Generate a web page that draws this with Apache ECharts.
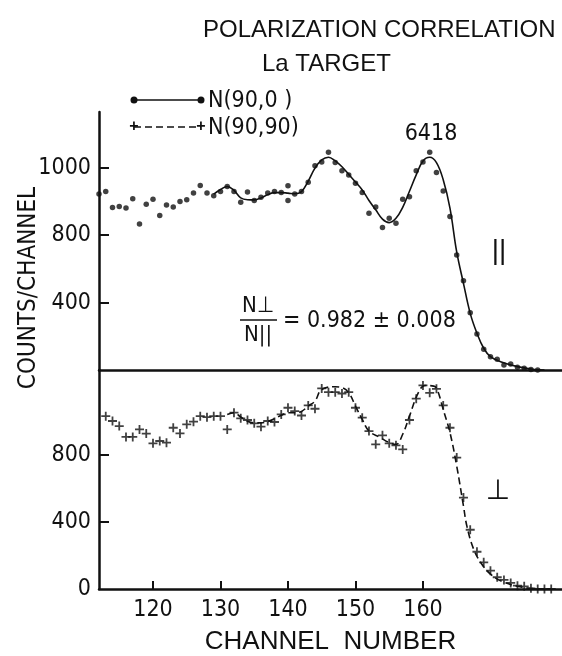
<!DOCTYPE html>
<html>
<head>
<meta charset="utf-8">
<script src="https://cdn.jsdelivr.net/npm/echarts@6/dist/echarts.min.js"></script>
<style>
  html, body { margin: 0; padding: 0; background: #fff; }
  #chart { width: 562px; height: 656px; }
</style>
</head>
<body>
<div id="chart"></div>
<script>
// N(90,0) - points (parallel)
var topChannels = [112,113,114,115,116,117,118,119,120,121,122,123,124,125,126,127,128,129,130,131,132,133,134,135,136,137,138,139,140,140,141,142,143,144,145,146,147,148,149,150,151,152,153,154,155,156,157,158,159,160,161,162,163,164,165,166,167,168,169,170,171,172,173,174,175,176,177];
var topCounts = [1044,1058,963,969,960,1015,866,983,1013,916,979,966,999,1009,1049,1094,1049,1033,1058,1088,1058,995,1055,1005,1025,1049,1058,1052,1092,1005,1043,1058,1113,1211,1233,1292,1230,1181,1157,1108,1052,930,966,845,900,871,1013,1028,1181,1233,1292,1171,1062,910,682,530,340,214,123,79,64,30,36,16,10,3,0];
// fitted curve (solid)
var topFitChannels = [129,130,131,132,133,134,135,136,137,138,139,140,141,142,143,144,145,146,147,148,149,150,151,152,153,154,155,156,157,158,159,160,161,162,163,164,165,166,167,168,169,170,171.5,174,176.5,178];
var topFitCounts = [1043,1070,1088,1065,1021,1010,1009,1020,1040,1052,1052,1049,1045,1058,1120,1197,1246,1262,1240,1205,1160,1115,1068,1005,950,895,874,900,965,1060,1157,1240,1262,1230,1128,960,700,514,336,218,129,79,49,20,3,0];

// N(90,90) - points (perpendicular)
var botChannels = [113,114,115,116,117,118,119,120,121,122,123,124,125,126,127,128,129,130,131,132,133,134,135,136,137,138,139,140,141,142,143,144,145,146,147,148,149,150,151,152,153,154,155,156,157,158,159,160,161,162,163,164,165,166,167,168,169,170,171,172,173,174,175,176,177,178,179];
var botCounts = [1030,1001,971,906,906,951,926,868,882,872,961,927,981,997,1030,1024,1030,1030,951,1051,1017,1007,987,967,1001,995,1040,1080,1060,1034,1094,1074,1195,1173,1173,1165,1173,1080,1021,941,862,916,868,856,832,1007,1134,1213,1169,1193,1094,961,783,545,353,222,159,109,70,54,36,20,16,4,0,0,0];
// fitted curve (dashed)
var botFitChannels = [131,132,133,134,135,136,137,138,139,140,141,142,143,144,145,147,148,149,150,151,152,153.7,155,156,157,158,159.3,160.3,161.6,162.1,163,164,165,166,166.5,167.5,168.7,170,171.5,174,176.5,179];
var botFitCounts = [1040,1050,1025,1000,990,990,998,1015,1035,1050,1050,1058,1090,1120,1189,1205,1200,1169,1090,1011,941,902,872,862,922,1030,1169,1213,1209,1189,1070,932,733,495,376,238,149,89,49,16,2,0];

// axis ticks
var xTickValues = [120, 130, 140, 150, 160];
var topTickValues = [400, 800, 1200];
var topTickLabels = ['400', '800', '1000'];
var botTickValues = [400, 800];
var botLabelValues = [0, 400, 800];

function pairs(xs, ys) {
  return xs.map(function (x, i) { return [x, ys[i]]; });
}

var NARROW = '"DejaVu Sans Condensed", "Liberation Sans Narrow", sans-serif';
var SANS = '"Liberation Sans", Arial, sans-serif';
var PLUS = 'path://M4,0H6V4H10V6H6V10H4V6H0V4H4Z';

var chart = echarts.init(document.getElementById('chart'));

var option = {
  animation: false,
  backgroundColor: '#fff',
  title: [
    { text: 'POLARIZATION CORRELATION', left: 198, top: 13,
      textStyle: { fontFamily: SANS, fontSize: 24, fontWeight: 'normal', color: '#111' } },
    { text: 'La TARGET', left: 257, top: 47,
      textStyle: { fontFamily: SANS, fontSize: 24, fontWeight: 'normal', color: '#111' } }
  ],
  grid: [
    { left: 99, right: 0, top: 112, height: 258 },
    { left: 99, right: 0, top: 370, height: 220 }
  ],
  xAxis: [
    {
      gridIndex: 0, type: 'value', min: 112, max: 180.6,
      axisLine: { lineStyle: { color: '#111', width: 2.5 } },
      axisTick: { show: false }, axisLabel: { show: false }, splitLine: { show: false }
    },
    {
      gridIndex: 1, type: 'value', min: 112, max: 180.6,
      name: 'CHANNEL  NUMBER', nameLocation: 'middle', nameGap: 40,
      nameTextStyle: { fontFamily: SANS, fontSize: 26, color: '#111' },
      axisLine: { lineStyle: { color: '#111', width: 2.5 } },
      axisTick: { inside: true, length: 8, customValues: xTickValues, lineStyle: { color: '#111', width: 2 } },
      axisLabel: { customValues: xTickValues, fontFamily: NARROW, fontSize: 23, color: '#111', margin: 10 },
      splitLine: { show: false }
    }
  ],
  yAxis: [
    {
      gridIndex: 0, type: 'value', min: 0, max: 1530,
      axisLine: { show: true, lineStyle: { color: '#111', width: 2.5 } },
      axisTick: { show: true, inside: true, length: 10, customValues: topTickValues, lineStyle: { color: '#111', width: 2 } },
      axisLabel: {
        customValues: topTickValues, fontFamily: NARROW, fontSize: 23, color: '#111', margin: 8,
        formatter: function (v) { return topTickLabels[topTickValues.indexOf(v)]; }
      },
      splitLine: { show: false }
    },
    {
      gridIndex: 1, type: 'value', min: 0, max: 1305,
      axisLine: { show: true, lineStyle: { color: '#111', width: 2.5 } },
      axisTick: { show: true, inside: true, length: 10, customValues: botTickValues, lineStyle: { color: '#111', width: 2 } },
      axisLabel: { customValues: botLabelValues, fontFamily: NARROW, fontSize: 23, color: '#111', margin: 8 },
      splitLine: { show: false }
    }
  ],
  series: [
    {
      name: 'N(90,0 )', type: 'scatter', xAxisIndex: 0, yAxisIndex: 0,
      symbol: 'circle', symbolSize: 5.5, itemStyle: { color: '#111' },
      data: pairs(topChannels, topCounts)
    },
    {
      name: 'fit ||', type: 'line', xAxisIndex: 0, yAxisIndex: 0, smooth: 0.4,
      showSymbol: false, lineStyle: { color: '#111', width: 1.6 },
      data: pairs(topFitChannels, topFitCounts)
    },
    {
      name: 'N(90,90)', type: 'scatter', xAxisIndex: 1, yAxisIndex: 1,
      symbol: PLUS, symbolSize: 9, itemStyle: { color: '#111' },
      data: pairs(botChannels, botCounts)
    },
    {
      name: 'fit ⊥', type: 'line', xAxisIndex: 1, yAxisIndex: 1, smooth: 0.4,
      showSymbol: false, lineStyle: { color: '#111', width: 1.6, type: [7, 4] },
      data: pairs(botFitChannels, botFitCounts)
    }
  ],
  graphic: [
    // y axis name
    { type: 'text', x: 29, y: 288, rotation: Math.PI / 2,
      style: { text: 'COUNTS/CHANNEL', font: '24px ' + NARROW, fill: '#111', align: 'center', verticalAlign: 'middle' } },
    // legend
    { type: 'line', shape: { x1: 134, y1: 100, x2: 201, y2: 100 }, style: { stroke: '#111', lineWidth: 1.6 } },
    { type: 'circle', shape: { cx: 134, cy: 100, r: 3.5 }, style: { fill: '#111' } },
    { type: 'circle', shape: { cx: 201, cy: 100, r: 3.5 }, style: { fill: '#111' } },
    { type: 'text', x: 208, y: 101, style: { text: 'N(90,0 )', font: '23px ' + NARROW, fill: '#111', verticalAlign: 'middle' } },
    { type: 'line', shape: { x1: 134, y1: 127, x2: 201, y2: 127 }, style: { stroke: '#111', lineWidth: 1.6, lineDash: [7, 4] } },
    { type: 'text', x: 134, y: 127, style: { text: '+', font: 'bold 16px ' + SANS, fill: '#111', align: 'center', verticalAlign: 'middle' } },
    { type: 'text', x: 201, y: 127, style: { text: '+', font: 'bold 16px ' + SANS, fill: '#111', align: 'center', verticalAlign: 'middle' } },
    { type: 'text', x: 208, y: 128, style: { text: 'N(90,90)', font: '23px ' + NARROW, fill: '#111', verticalAlign: 'middle' } },
    // annotations
    { type: 'text', x: 431, y: 134, style: { text: '6418', font: '23px ' + NARROW, fill: '#111', align: 'center', verticalAlign: 'middle' } },
    { type: 'text', x: 499, y: 251, style: { text: '||', font: '28px ' + SANS, fill: '#111', align: 'center', verticalAlign: 'middle' } },
    { type: 'text', x: 498, y: 492, style: { text: '⊥', font: '28px "DejaVu Sans", sans-serif', fill: '#111', align: 'center', verticalAlign: 'middle' } },
    // ratio
    { type: 'text', x: 258, y: 306, style: { text: 'N⊥', font: '22px ' + NARROW, fill: '#111', align: 'center', verticalAlign: 'middle' } },
    { type: 'line', shape: { x1: 240, y1: 320, x2: 277, y2: 320 }, style: { stroke: '#111', lineWidth: 1.6 } },
    { type: 'text', x: 258, y: 335, style: { text: 'N||', font: '22px ' + NARROW, fill: '#111', align: 'center', verticalAlign: 'middle' } },
    { type: 'text', x: 283, y: 321, style: { text: '= 0.982 ± 0.008', font: '23px ' + NARROW, fill: '#111', verticalAlign: 'middle' } }
  ]
};

chart.setOption(option);
</script>
</body>
</html>
